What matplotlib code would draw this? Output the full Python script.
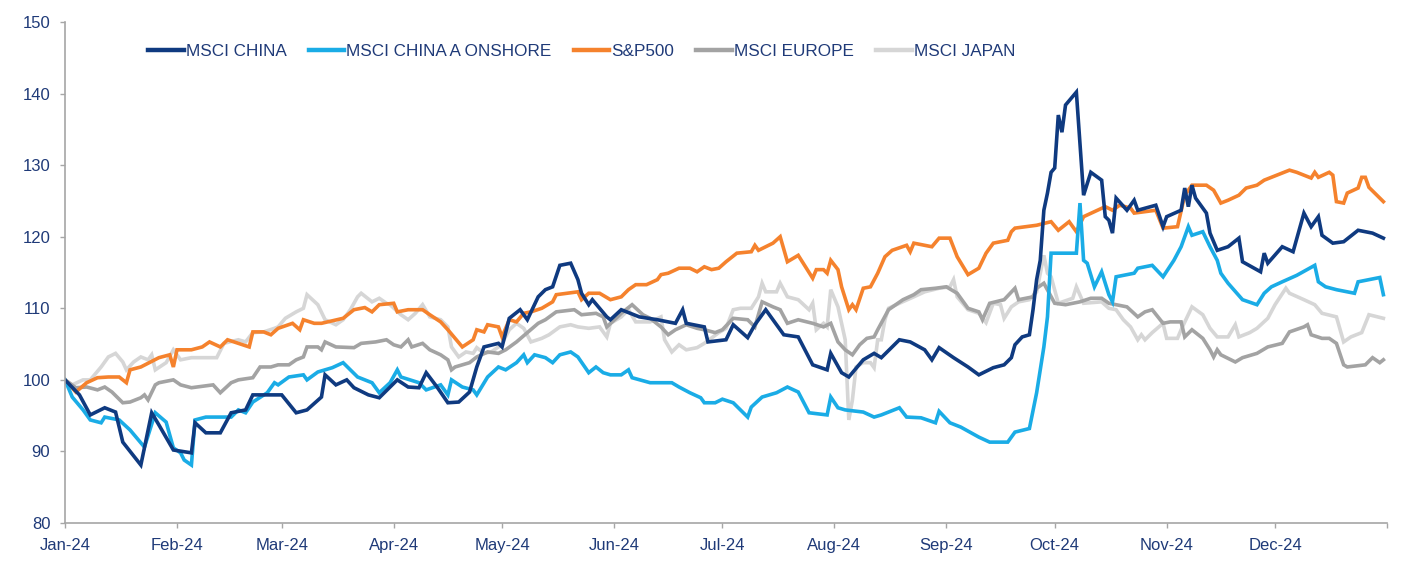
import matplotlib
matplotlib.use("Agg")
import matplotlib.pyplot as plt
import pandas as pd

plt.rcParams['font.family'] = ['Liberation Sans', 'DejaVu Sans']

# index levels, rebased to 100 at start of 2024 (dates as MM-DD)
china_dates = ["01-01", "01-05", "01-08", "01-12", "01-15", "01-17", "01-22", "01-25", "01-27", "01-31",
               "02-05", "02-06", "02-09", "02-13", "02-16", "02-20", "02-22", "02-26", "03-01", "03-05",
               "03-08", "03-12", "03-13", "03-16", "03-19", "03-21", "03-25", "03-28", "04-02", "04-05",
               "04-08", "04-10", "04-13", "04-16", "04-19", "04-22", "04-24", "04-26", "04-30", "05-01",
               "05-03", "05-06", "05-08", "05-11", "05-13", "05-15", "05-17", "05-20", "05-22", "05-23",
               "05-25", "05-26", "05-30", "05-31", "06-03", "06-08", "06-13", "06-18", "06-20", "06-21",
               "06-26", "06-27", "07-02", "07-04", "07-08", "07-10", "07-13", "07-18", "07-22", "07-26",
               "07-30", "07-31", "08-03", "08-05", "08-09", "08-12", "08-14", "08-19", "08-22", "08-26",
               "08-28", "08-30", "09-03", "09-07", "09-10", "09-14", "09-17", "09-19", "09-20", "09-22",
               "09-24", "09-25", "09-26", "09-27", "09-28", "09-29", "09-30", "10-01", "10-02", "10-03",
               "10-04", "10-07", "10-09", "10-11", "10-14", "10-15", "10-16", "10-17", "10-18", "10-21",
               "10-23", "10-24", "10-29", "10-31", "11-01", "11-05", "11-06", "11-07", "11-08", "11-09",
               "11-12", "11-13", "11-15", "11-18", "11-21", "11-22", "11-27", "11-28", "11-29", "12-03",
               "12-06", "12-09", "12-11", "12-13", "12-14", "12-17", "12-20", "12-24", "12-28", "12-31"]
china_vals = [100.0, 97.9, 95.1, 96.1, 95.5, 91.3, 88.1, 95.4, 93.7, 90.2,
              89.8, 94.0, 92.6, 92.6, 95.4, 95.8, 97.9, 97.9, 97.9, 95.4,
              95.8, 97.6, 100.7, 99.3, 100.0, 98.9, 97.9, 97.5, 100.0, 99.0,
              98.9, 101.0, 99.0, 96.8, 96.9, 98.3, 101.8, 104.6, 105.1, 104.6,
              108.6, 109.8, 108.4, 111.6, 112.6, 113.0, 116.0, 116.3, 114.0, 112.1,
              110.5, 111.2, 108.8, 108.4, 109.8, 108.8, 108.4, 107.9, 109.8, 107.9,
              107.4, 105.3, 105.6, 107.7, 105.9, 107.7, 109.8, 106.3, 106.0, 102.1,
              101.4, 103.7, 101.0, 100.4, 102.8, 103.7, 103.1, 105.6, 105.3, 104.2,
              102.8, 104.5, 103.1, 101.8, 100.7, 101.7, 102.1, 103.1, 104.9, 106.0,
              106.3, 109.8, 114.0, 116.7, 123.7, 126.1, 129.0, 129.6, 137.0, 134.6,
              138.4, 140.2, 125.8, 129.0, 127.9, 122.8, 122.3, 120.5, 125.4, 123.7,
              125.1, 123.7, 124.4, 121.4, 122.8, 123.7, 126.8, 124.2, 127.2, 125.4,
              123.3, 120.5, 118.1, 118.6, 119.8, 116.5, 115.1, 117.7, 116.3, 118.6,
              117.9, 123.3, 121.4, 122.8, 120.2, 119.1, 119.3, 120.9, 120.5, 119.8]

china_a_dates = ["01-01", "01-03", "01-06", "01-08", "01-11", "01-12", "01-16", "01-19", "01-23", "01-26",
                 "01-29", "01-31", "02-02", "02-03", "02-05", "02-06", "02-09", "02-16", "02-18", "02-20",
                 "02-22", "02-26", "02-28", "02-29", "03-03", "03-07", "03-08", "03-11", "03-15", "03-18",
                 "03-20", "03-22", "03-26", "03-28", "03-31", "04-02", "04-03", "04-08", "04-10", "04-14",
                 "04-16", "04-17", "04-20", "04-23", "04-24", "04-27", "04-30", "05-02", "05-05", "05-07",
                 "05-08", "05-10", "05-13", "05-15", "05-17", "05-20", "05-22", "05-25", "05-27", "05-29",
                 "05-31", "06-03", "06-05", "06-06", "06-11", "06-17", "06-19", "06-22", "06-25", "06-26",
                 "06-29", "07-01", "07-04", "07-08", "07-09", "07-12", "07-16", "07-19", "07-22", "07-25",
                 "07-30", "07-31", "08-02", "08-04", "08-09", "08-12", "08-14", "08-19", "08-21", "08-25",
                 "08-29", "08-30", "09-02", "09-05", "09-10", "09-13", "09-18", "09-20", "09-24", "09-26",
                 "09-28", "09-29", "09-30", "10-07", "10-08", "10-09", "10-10", "10-12", "10-14", "10-16",
                 "10-17", "10-18", "10-23", "10-24", "10-28", "10-31", "11-03", "11-05", "11-07", "11-08",
                 "11-11", "11-13", "11-15", "11-16", "11-18", "11-22", "11-26", "11-28", "11-30", "12-03",
                 "12-07", "12-12", "12-13", "12-15", "12-18", "12-23", "12-24", "12-27", "12-30", "12-31"]
china_a_vals = [100.0, 97.6, 95.8, 94.4, 94.0, 94.8, 94.4, 93.0, 90.6, 95.4,
                94.1, 90.5, 89.8, 88.8, 88.1, 94.4, 94.8, 94.8, 95.8, 95.4,
                96.9, 98.2, 99.6, 99.3, 100.4, 100.7, 100.0, 101.1, 101.7, 102.4,
                101.4, 100.4, 99.6, 98.2, 99.6, 101.4, 100.4, 99.6, 98.6, 99.3,
                97.9, 100.0, 99.0, 98.6, 97.9, 100.4, 101.8, 101.4, 102.4, 103.5,
                102.4, 103.5, 103.1, 102.4, 103.5, 103.9, 103.2, 101.0, 101.8, 101.0,
                100.7, 100.7, 101.4, 100.3, 99.6, 99.6, 99.0, 98.2, 97.5, 96.8,
                96.8, 97.3, 96.8, 94.8, 96.2, 97.6, 98.2, 99.0, 98.3, 95.4,
                95.1, 97.6, 96.1, 95.8, 95.5, 94.8, 95.1, 96.1, 94.8, 94.7,
                94.0, 95.6, 94.0, 93.4, 92.0, 91.3, 91.3, 92.7, 93.2, 98.2,
                104.6, 108.8, 117.7, 117.7, 124.7, 116.7, 116.3, 113.0, 115.1, 111.9,
                110.9, 114.4, 114.9, 115.6, 116.0, 114.4, 116.7, 118.6, 121.4, 120.2,
                120.7, 118.6, 116.7, 114.9, 113.5, 111.2, 110.5, 112.1, 113.0, 113.7,
                114.6, 116.0, 113.7, 113.0, 112.6, 112.1, 113.7, 114.0, 114.3, 111.9]

spx_dates = ["01-01", "01-04", "01-07", "01-10", "01-13", "01-16", "01-18", "01-19", "01-22", "01-27",
             "01-30", "01-31", "02-01", "02-05", "02-08", "02-10", "02-13", "02-15", "02-21", "02-22",
             "02-25", "02-27", "02-29", "03-04", "03-06", "03-07", "03-10", "03-12", "03-18", "03-21",
             "03-24", "03-26", "03-28", "04-01", "04-02", "04-05", "04-09", "04-11", "04-14", "04-16",
             "04-18", "04-20", "04-23", "04-24", "04-26", "04-27", "04-30", "05-01", "05-03", "05-05",
             "05-07", "05-09", "05-12", "05-15", "05-16", "05-22", "05-23", "05-25", "05-28", "05-31",
             "06-03", "06-05", "06-07", "06-10", "06-13", "06-14", "06-16", "06-19", "06-22", "06-24",
             "06-26", "06-28", "06-30", "07-02", "07-05", "07-09", "07-10", "07-11", "07-13", "07-15",
             "07-17", "07-19", "07-22", "07-26", "07-27", "07-29", "07-30", "07-31", "08-02", "08-03",
             "08-05", "08-06", "08-07", "08-09", "08-11", "08-13", "08-15", "08-17", "08-21", "08-22",
             "08-23", "08-26", "08-28", "08-30", "09-02", "09-04", "09-07", "09-10", "09-12", "09-14",
             "09-18", "09-19", "09-20", "09-26", "09-30", "10-02", "10-05", "10-07", "10-09", "10-12",
             "10-15", "10-17", "10-19", "10-22", "10-23", "10-29", "10-31", "11-04", "11-06", "11-08",
             "11-12", "11-14", "11-16", "11-18", "11-21", "11-23", "11-26", "11-28", "11-30", "12-03",
             "12-05", "12-07", "12-09", "12-11", "12-12", "12-13", "12-16", "12-17", "12-18", "12-20",
             "12-21", "12-24", "12-25", "12-26", "12-27", "12-31"]
spx_vals = [100.0, 98.3, 99.6, 100.3, 100.4, 100.4, 99.6, 101.4, 101.8, 103.1,
            103.5, 101.8, 104.2, 104.2, 104.6, 105.3, 104.6, 105.6, 104.6, 106.7,
            106.7, 106.3, 107.2, 107.9, 107.0, 108.4, 107.9, 107.9, 108.6, 109.8,
            110.1, 109.5, 110.5, 110.7, 109.5, 109.8, 109.8, 109.1, 108.1, 107.0,
            105.8, 104.6, 105.6, 107.0, 106.7, 107.7, 107.4, 106.0, 108.4, 108.1,
            109.3, 109.5, 110.0, 110.9, 111.9, 112.3, 111.2, 112.1, 112.1, 111.2,
            111.6, 112.6, 113.3, 113.3, 114.0, 114.7, 114.9, 115.6, 115.6, 115.1,
            115.8, 115.4, 115.6, 116.5, 117.7, 117.9, 118.8, 118.1, 118.6, 119.1,
            120.0, 116.5, 117.4, 114.2, 115.4, 115.4, 114.9, 116.7, 115.4, 113.0,
            109.8, 110.5, 109.8, 112.8, 113.0, 114.9, 117.2, 118.1, 118.8, 117.9,
            119.1, 118.8, 118.6, 119.8, 119.8, 117.2, 114.7, 115.6, 117.7, 119.1,
            119.5, 120.7, 121.2, 121.6, 122.1, 120.9, 122.1, 120.7, 122.8, 123.5,
            124.2, 123.7, 124.4, 124.0, 123.3, 123.7, 121.2, 121.4, 125.8, 127.2,
            127.2, 126.5, 124.7, 125.1, 125.8, 126.8, 127.2, 127.9, 128.3, 128.9,
            129.3, 129.0, 128.6, 128.2, 129.0, 128.3, 129.0, 128.6, 124.9, 124.7,
            126.1, 126.8, 128.3, 128.3, 126.9, 124.9]

europe_dates = ["01-01", "01-04", "01-07", "01-10", "01-12", "01-14", "01-17", "01-19", "01-22", "01-23",
                "01-24", "01-26", "01-27", "01-31", "02-02", "02-05", "02-11", "02-13", "02-16", "02-18",
                "02-22", "02-24", "02-27", "02-29", "03-03", "03-05", "03-07", "03-08", "03-11", "03-12",
                "03-13", "03-16", "03-21", "03-23", "03-27", "03-30", "04-01", "04-03", "04-05", "04-06",
                "04-09", "04-11", "04-14", "04-16", "04-17", "04-18", "04-22", "04-24", "04-27", "04-30",
                "05-02", "05-05", "05-08", "05-11", "05-13", "05-16", "05-21", "05-23", "05-27", "05-29",
                "05-30", "06-02", "06-03", "06-06", "06-09", "06-11", "06-14", "06-16", "06-18", "06-21",
                "06-24", "06-26", "06-29", "07-01", "07-04", "07-08", "07-10", "07-12", "07-15", "07-17",
                "07-19", "07-22", "07-26", "07-29", "07-31", "08-02", "08-04", "08-06", "08-08", "08-10",
                "08-12", "08-13", "08-16", "08-20", "08-23", "08-25", "08-29", "09-01", "09-04", "09-07",
                "09-10", "09-11", "09-13", "09-17", "09-20", "09-21", "09-25", "09-26", "09-28", "10-01",
                "10-04", "10-08", "10-11", "10-14", "10-16", "10-21", "10-24", "10-26", "10-28", "10-31",
                "11-02", "11-05", "11-06", "11-08", "11-11", "11-13", "11-14", "11-15", "11-16", "11-20",
                "11-22", "11-26", "11-29", "12-03", "12-05", "12-09", "12-10", "12-11", "12-14", "12-16",
                "12-18", "12-20", "12-21", "12-26", "12-28", "12-30", "12-31"]
europe_vals = [100.0, 98.9, 99.0, 98.6, 99.0, 98.3, 96.8, 96.9, 97.5, 97.9,
               97.2, 99.3, 99.6, 100.0, 99.3, 98.9, 99.3, 98.2, 99.6, 100.0,
               100.3, 101.8, 101.8, 102.1, 102.1, 102.8, 103.2, 104.6, 104.6, 104.2,
               105.3, 104.6, 104.5, 105.1, 105.3, 105.6, 104.9, 104.6, 105.6, 104.6,
               105.1, 104.2, 103.5, 102.8, 101.4, 101.8, 102.4, 103.2, 103.9, 103.7,
               104.2, 105.3, 106.6, 107.9, 108.4, 109.5, 109.8, 109.1, 109.3, 108.8,
               107.4, 108.8, 109.3, 110.5, 109.1, 108.6, 107.4, 106.3, 107.0, 107.7,
               107.2, 107.0, 106.6, 107.0, 108.6, 108.4, 107.4, 110.9, 110.2, 109.8,
               107.9, 108.4, 107.9, 107.4, 107.9, 105.3, 104.2, 103.5, 104.9, 105.8,
               106.0, 107.0, 109.8, 111.2, 111.9, 112.6, 112.8, 113.0, 112.1, 110.0,
               109.5, 108.4, 110.7, 111.2, 112.8, 111.2, 111.6, 112.8, 113.5, 110.7,
               110.5, 110.9, 111.4, 111.4, 110.7, 110.2, 108.8, 109.5, 109.8, 107.9,
               108.1, 108.1, 106.0, 107.0, 105.8, 104.2, 103.2, 104.2, 103.5, 102.5,
               103.1, 103.7, 104.6, 105.1, 106.7, 107.4, 107.7, 106.3, 105.8, 105.8,
               105.1, 102.1, 101.8, 102.1, 103.1, 102.4, 102.8]

japan_dates = ["01-01", "01-03", "01-06", "01-08", "01-11", "01-13", "01-15", "01-17", "01-18", "01-20",
               "01-22", "01-24", "01-25", "01-26", "01-29", "01-31", "02-02", "02-05", "02-12", "02-14",
               "02-18", "02-20", "02-22", "02-25", "02-28", "02-29", "03-02", "03-05", "03-07", "03-08",
               "03-11", "03-13", "03-16", "03-18", "03-20", "03-22", "03-23", "03-26", "03-28", "03-30",
               "03-31", "04-03", "04-05", "04-07", "04-09", "04-11", "04-14", "04-16", "04-17", "04-19",
               "04-21", "04-23", "04-24", "04-26", "04-28", "04-30", "05-01", "05-03", "05-05", "05-07",
               "05-09", "05-12", "05-14", "05-17", "05-20", "05-22", "05-25", "05-28", "05-30", "05-31",
               "06-03", "06-05", "06-07", "06-11", "06-14", "06-15", "06-17", "06-19", "06-21", "06-24",
               "06-26", "06-30", "07-02", "07-04", "07-06", "07-09", "07-11", "07-12", "07-13", "07-16",
               "07-17", "07-19", "07-22", "07-25", "07-26", "07-27", "07-29", "07-30", "07-31", "08-02",
               "08-04", "08-05", "08-06", "08-07", "08-09", "08-11", "08-12", "08-13", "08-14", "08-15",
               "08-16", "08-19", "08-23", "08-26", "08-30", "09-02", "09-03", "09-04", "09-07", "09-10",
               "09-12", "09-14", "09-16", "09-17", "09-19", "09-21", "09-24", "09-26", "09-28", "09-29",
               "09-30", "10-02", "10-06", "10-07", "10-09", "10-14", "10-16", "10-18", "10-20", "10-22",
               "10-24", "10-25", "10-26", "10-28", "10-31", "11-01", "11-04", "11-05", "11-08", "11-11",
               "11-13", "11-15", "11-18", "11-20", "11-21", "11-24", "11-26", "11-29", "12-01", "12-04",
               "12-05", "12-09", "12-12", "12-14", "12-18", "12-20", "12-22", "12-25", "12-27", "12-31"]
japan_vals = [100.0, 99.3, 100.0, 100.0, 101.8, 103.2, 103.7, 102.5, 101.4, 102.5,
              103.2, 102.8, 103.5, 101.4, 102.4, 104.2, 102.8, 103.1, 103.1, 105.1,
              105.6, 105.3, 106.6, 106.7, 107.2, 107.4, 108.6, 109.5, 110.0, 111.9,
              110.5, 108.4, 107.7, 108.4, 109.8, 111.6, 112.1, 110.9, 111.4, 110.7,
              110.5, 109.1, 108.4, 109.3, 110.5, 108.8, 108.4, 107.4, 104.6, 103.2,
              103.9, 103.7, 104.5, 103.7, 103.9, 104.6, 105.1, 107.0, 107.9, 107.2,
              105.3, 105.8, 106.3, 107.4, 107.7, 107.4, 107.2, 107.4, 106.0, 107.9,
              108.8, 109.8, 108.1, 108.1, 108.8, 105.6, 103.9, 104.9, 104.2, 104.5,
              105.1, 106.6, 107.2, 109.8, 110.0, 110.0, 111.6, 113.5, 112.3, 112.3,
              113.5, 111.6, 111.2, 109.8, 110.7, 107.0, 107.9, 107.4, 112.6, 110.2,
              105.6, 94.4, 97.2, 101.8, 102.4, 102.4, 101.7, 105.6, 105.6, 108.4,
              110.0, 110.7, 111.6, 112.3, 112.8, 113.0, 114.0, 111.6, 109.8, 109.3,
              108.0, 110.7, 110.5, 108.6, 110.2, 110.9, 111.2, 112.3, 117.4, 114.9,
              114.4, 110.7, 111.4, 113.0, 110.7, 110.9, 110.0, 109.8, 108.4, 107.4,
              105.6, 106.3, 105.6, 106.6, 107.9, 105.8, 105.8, 107.0, 110.2, 109.1,
              107.2, 106.0, 106.0, 107.7, 106.0, 106.6, 107.2, 108.6, 110.5, 112.8,
              112.1, 111.2, 110.5, 109.3, 108.8, 105.3, 106.0, 106.6, 109.1, 108.6]

series = [
    ("MSCI CHINA", china_dates, china_vals, "#0f3a80"),
    ("MSCI CHINA A ONSHORE", china_a_dates, china_a_vals, "#1aace6"),
    ("S&P500", spx_dates, spx_vals, "#f5822d"),
    ("MSCI EUROPE", europe_dates, europe_vals, "#a3a3a3"),
    ("MSCI JAPAN", japan_dates, japan_vals, "#d6d6d6"),
]

text_col = "#1f3a78"
axis_col = "#a6a6a6"

fig = plt.figure(figsize=(14.06, 5.68), dpi=100)
ax = fig.add_axes([65 / 1406, 1 - 523 / 568, (1387 - 65) / 1406, (523 - 22) / 568])

# draw in reverse so China ends up on top
for name, d, v, c in reversed(series):
    dates = pd.to_datetime(["2024-" + s for s in d])
    ax.plot(dates, v, color=c, lw=2.6, label=name, solid_joinstyle="miter")

ax.set_ylim(80, 150)
ax.set_yticks(range(80, 151, 10))
ax.set_xlim(pd.Timestamp("2024-01-01"), pd.Timestamp("2025-01-01"))
ticks = pd.date_range("2024-01-01", "2025-01-01", freq="MS")
ax.set_xticks(ticks)
ax.set_xticklabels([t.strftime("%b-%y") for t in ticks[:-1]] + [""])

for s in ["top", "right"]:
    ax.spines[s].set_visible(False)
for s in ["left", "bottom"]:
    ax.spines[s].set_color(axis_col)
    ax.spines[s].set_linewidth(1.2)

ax.tick_params(axis="both", colors=axis_col, labelcolor=text_col, labelsize=12,
               length=3.6, width=1.0, direction="out")
ax.tick_params(axis="y", pad=7)
ax.tick_params(axis="x", pad=7)

handles, labels = ax.get_legend_handles_labels()
leg = fig.legend(handles[::-1], labels[::-1], loc="center left",
                 bbox_to_anchor=(148 / 1406, 1 - 51 / 568), ncol=5, frameon=False,
                 fontsize=12.3, handlelength=2.1, handletextpad=0.1, columnspacing=1.3,
                 borderpad=0, borderaxespad=0)
for t in leg.get_texts():
    t.set_color(text_col)
for h in leg.get_lines():
    h.set_linewidth(3.2)

fig.savefig("out.png", dpi=100)
